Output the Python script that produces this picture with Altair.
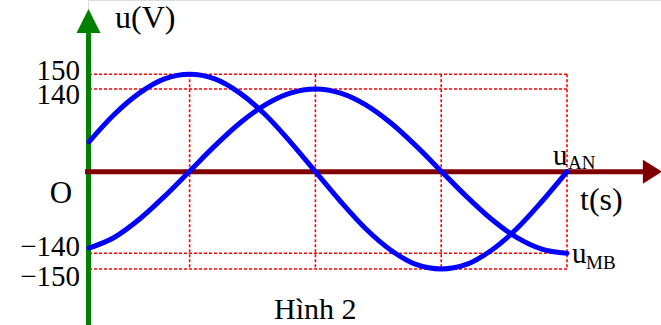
import altair as alt
import pandas as pd

# Time in quarter periods, voltage samples in volts
t_vals = [0.2, 0.4, 0.6, 0.8, 1.0, 1.2, 1.4, 1.6, 1.8, 2.0,
          2.2, 2.4, 2.6, 2.8, 3.0, 3.2, 3.4, 3.6, 3.8, 4.0]
u_an = [46, 88, 121, 143, 150, 143, 121, 88, 46, 0,
        -46, -88, -121, -143, -150, -143, -121, -88, -46, 0]
u_mb = [-131, -113, -82, -43, 0, 43, 82, 113, 133, 140,
        133, 113, 82, 43, 0, -43, -82, -113, -133, -140]

grid_t = [1, 2, 3, 4]
an_levels = [150, -150]
mb_levels = [140, -140]
an_labels = ["150", "\u2212150"]
mb_labels = ["140", "\u2212140"]

FONT = "Liberation Serif"
RED = "#FF0000"
BLUE = "#0000FF"
GREEN = "#008000"
MAROON = "#800000"

t_start, t_end = t_vals[0], t_vals[-1]

x_scale = alt.Scale(domain=[t_start, t_end], range=[1, 479])
# schematic axis: each waveform gets its own linear scale around the common zero
an_scale = alt.Scale(domain=[-150, 150], range=[269, 74.3])
mb_scale = alt.Scale(domain=[-140, 140], range=[253.3, 89])

an_df = pd.DataFrame({"t": t_vals, "u": u_an})
mb_df = pd.DataFrame({"t": t_vals, "u": u_mb})
one = pd.DataFrame({"k": [0]})

dotted = dict(color=RED, strokeDash=[3, 2], strokeWidth=1.6)


def hlines(levels, scale):
    df = pd.DataFrame({"u": levels, "t0": [t_start] * len(levels), "t1": [t_end] * len(levels)})
    return alt.Chart(df).mark_rule(**dotted).encode(
        x=alt.X("t0:Q", scale=x_scale, axis=None),
        x2="t1:Q",
        y=alt.Y("u:Q", scale=scale, axis=None),
    )


vgrid = alt.Chart(pd.DataFrame({"t": grid_t, "top": [150] * 4, "bot": [-150] * 4})).mark_rule(**dotted).encode(
    x=alt.X("t:Q", scale=x_scale, axis=None),
    y=alt.Y("top:Q", scale=an_scale, axis=None),
    y2="bot:Q",
)

# vertical u axis with arrow
u_axis = alt.Chart(one).mark_rule(color=GREEN, strokeWidth=5).encode(
    x=alt.value(0.5), y=alt.value(30), y2=alt.value(325)
)
u_arrow = alt.Chart(one).mark_point(
    shape="M0,-1L1,1L-1,1Z", filled=True, color=GREEN, opacity=1, size=576
).encode(x=alt.value(0.5), y=alt.value(21))

# horizontal time axis with arrow, drawn at u = 0
t_axis = alt.Chart(one).mark_rule(color=MAROON, strokeWidth=5).encode(
    x=alt.value(-3), x2=alt.value(556),
    y=alt.Y(datum=0, scale=an_scale, axis=None),
)
t_arrow = alt.Chart(one).mark_point(
    shape="M-0.8,-1L0.8,0L-0.8,1Z", filled=True, color=MAROON, opacity=1, size=576
).encode(x=alt.value(564.5), y=alt.Y(datum=0, scale=an_scale, axis=None))


def wave(df, scale):
    return alt.Chart(df).mark_line(
        color=BLUE, strokeWidth=5, interpolate="monotone", strokeCap="round"
    ).encode(
        x=alt.X("t:Q", scale=x_scale, axis=None),
        y=alt.Y("u:Q", scale=scale, axis=None),
    )


def level_label(text, value, scale, dy):
    return alt.Chart(one).mark_text(
        text=text, font=FONT, fontSize=29, align="right", baseline="middle", dy=dy, color="black"
    ).encode(x=alt.value(-8), y=alt.Y(datum=value, scale=scale, axis=None))


def free_text(text, x, y, size=29, align="left"):
    return alt.Chart(one).mark_text(
        text=text, font=FONT, fontSize=size, align=align, baseline="alphabetic", color="black"
    ).encode(x=alt.value(x), y=alt.value(y))


labels = [
    level_label(an_labels[0], an_levels[0], an_scale, -3),
    level_label(mb_labels[0], mb_levels[0], mb_scale, 6),
    level_label(mb_labels[1], mb_levels[1], mb_scale, -6),
    level_label(an_labels[1], an_levels[1], an_scale, 8),
    free_text("u(V)", 27, 28, size=32),
    free_text("O", -27, 203, size=31, align="center"),
    free_text("t(s)", 492, 210, size=32),
    free_text("u", 465, 165),
    free_text("AN", 480, 169, size=19),
    free_text("u", 484, 263),
    free_text("MB", 498, 269, size=19),
    free_text("Hình 2", 186, 319, size=30),
]

chart = alt.layer(
    hlines(an_levels, an_scale),
    hlines(mb_levels, mb_scale),
    vgrid,
    u_axis,
    t_axis,
    wave(an_df, an_scale),
    wave(mb_df, mb_scale),
    u_arrow,
    t_arrow,
    *labels,
).resolve_scale(y="independent").properties(
    width=573,
    height=325,
    padding={"left": 88, "top": 0, "right": 0, "bottom": 0},
    autosize=alt.AutoSizeParams(type="none"),
).configure_view(stroke=None).configure(background="white")

chart.save("out.html", embed_options={"renderer": "svg", "actions": False})
